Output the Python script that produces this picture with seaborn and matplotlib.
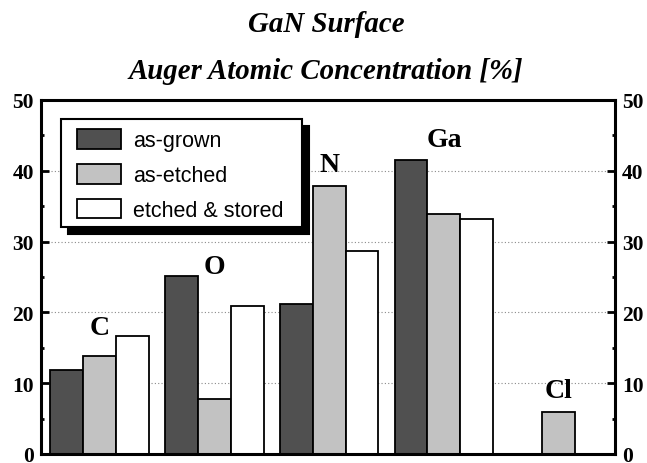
import matplotlib
matplotlib.use("Agg")
import matplotlib.pyplot as plt
from matplotlib.patches import Patch, Rectangle
import numpy as np
import pandas as pd
import seaborn as sns

# Auger atomic concentration [%] per element
elements = ["C", "O", "N", "Ga", "Cl"]
as_grown = [11.8, 25.1, 21.2, 41.5, np.nan]
as_etched = [13.8, 7.8, 37.9, 33.9, 5.9]
etched_stored = [16.6, 20.9, 28.6, 33.2, np.nan]
series_names = ["as-grown", "as-etched", "etched & stored"]
bar_colors = ["#505050", "#c2c2c2", "#ffffff"]
yticks = [0, 10, 20, 30, 40, 50]
yticks_minor = [5, 15, 25, 35, 45]

df = pd.DataFrame({
    "element": elements * 3,
    "sample": np.repeat(series_names, len(elements)),
    "conc": as_grown + as_etched + etched_stored,
})

sns.set_style("white")
plt.rcParams["font.family"] = ["Liberation Serif", "DejaVu Serif"]
plt.rcParams["font.weight"] = "bold"
plt.rcParams["text.color"] = "black"
plt.rcParams["ytick.color"] = "black"
plt.rcParams["ytick.labelcolor"] = "black"

fig = plt.figure(figsize=(6.47, 4.64), dpi=100)
ax = fig.add_axes([0.0634, 0.0194, 0.887, 0.763])

sns.barplot(data=df, x="element", y="conc", hue="sample", order=elements,
            hue_order=series_names, palette=bar_colors, saturation=1,
            width=0.86, gap=0, edgecolor="black", linewidth=1.3,
            errorbar=None, legend=False, ax=ax)

ax.set_xlim(-0.51, 4.49)
ax.set_ylim(0, 50)
ax.set_yticks(yticks)
ax.set_yticks(yticks_minor, minor=True)
ax.set_xticks([])
ax.set_xlabel("")
ax.set_ylabel("")
ax.set_axisbelow(True)
ax.yaxis.grid(True, which="major", linestyle=(0, (1, 2)), color="#8a8a8a", linewidth=0.8)
ax.tick_params(axis="y", which="both", direction="in", left=True, right=True,
               labelleft=True, labelright=True, width=2, labelsize=15.5, pad=5)
ax.tick_params(axis="y", which="major", length=6)
ax.tick_params(axis="y", which="minor", length=2.5)
for sp in ax.spines.values():
    sp.set_visible(True)
    sp.set_linewidth(2.2)
    sp.set_color("black")

# element labels above each group
label_pad = [0.4, 0.5, 2.1, 2.0, 2.2]
group_max = np.nanmax([as_grown, as_etched, etched_stored], axis=0)
for i, (el, top, pad) in enumerate(zip(elements, group_max, label_pad)):
    ax.text(i, top + pad, el, ha="center", va="baseline", fontsize=20, fontweight="bold")

# titles
fig.text(0.504, 0.931, "GaN Surface", ha="center", va="baseline",
         fontsize=20.8, fontweight="bold", style="italic")
fig.text(0.504, 0.83, "Auger Atomic Concentration [%]", ha="center", va="baseline",
         fontsize=20.8, fontweight="bold", style="italic")

# legend: no built-in frame, a box and solid drop shadow are drawn around it
handles = [Patch(facecolor=c, edgecolor="black", linewidth=1.3, label=n)
           for n, c in zip(series_names, bar_colors)]
leg = ax.legend(handles=handles, loc="upper left", bbox_to_anchor=(0.0627, 0.917),
                borderaxespad=0, frameon=False, borderpad=0,
                prop={"family": "Liberation Sans", "size": 15.5, "weight": "normal"},
                handlelength=2.05, handleheight=1.0, handletextpad=0.55,
                labelspacing=0.6)
leg.set_zorder(10)

fig.canvas.draw()
hb = [h.get_window_extent() for h in leg.legend_handles]
tb = [t.get_window_extent() for t in leg.get_texts()]
left = min(b.x0 for b in hb) - 16
right = max(b.x1 for b in tb) + 19
top = max(b.y1 for b in hb) + 10
bottom = min(b.y0 for b in hb) - 9
inv = ax.transAxes.inverted()
for dx, dy, fc, z in [(7, -7, "black", 8), (0, 0, "white", 9)]:
    (x0, y0), (x1, y1) = inv.transform([(left + dx, bottom + dy), (right + dx, top + dy)])
    ax.add_patch(Rectangle((x0, y0), x1 - x0, y1 - y0, transform=ax.transAxes,
                           facecolor=fc, edgecolor="black", linewidth=1.5,
                           zorder=z, clip_on=False))

fig.savefig("out.png", dpi=100)
